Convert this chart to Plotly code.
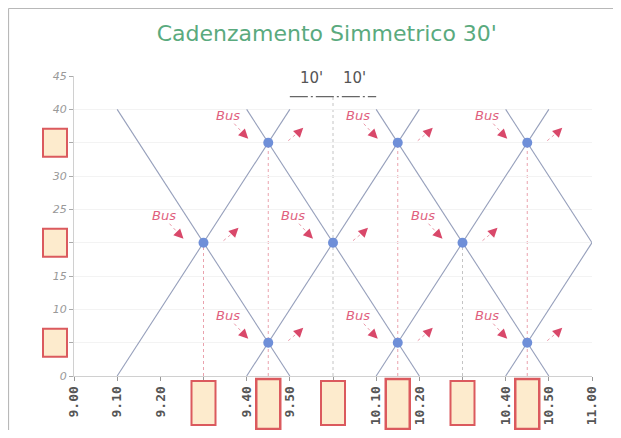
import plotly.graph_objects as go

# minutes after 9.00
tick_minutes = [0, 10, 20, 30, 40, 50, 60, 70, 80, 90, 100, 110, 120]
tick_labels = ["9.00", "9.10", "9.20", "", "9.40", "9.50", "",
               "10.10", "10.20", "", "10.40", "10.50", "11.00"]
y_ticks = [0, 5, 10, 15, 20, 25, 30, 35, 40, 45]
y_labels = ["0", "", "10", "15", "", "25", "30", "", "40", "45"]

# train paths (one direction climbs, the other descends)
up_x = [[10, 50], [40, 80], [70, 110], [100, 120]]
up_y = [[0, 40], [0, 40], [0, 40], [0, 20]]
down_x = [[10, 50], [40, 80], [70, 110], [100, 120]]
down_y = [[40, 0], [40, 0], [40, 0], [40, 20]]

# crossing points (bus connections)
meet_x = [30, 45, 45, 60, 75, 75, 90, 105, 105]
meet_y = [20, 35, 5, 20, 35, 5, 20, 35, 5]

# dotted verticals down from the crossings
vline_x = [30, 45, 60, 75, 90, 105]
vline_top = [20, 35, 42, 35, 20, 35]
vline_pink = [True, True, False, True, False, True]

# boxes along the axes
bottom_box_x = [30, 45, 60, 75, 90, 105]
bottom_box_big = [False, True, False, True, False, True]
left_box_y = [5, 20, 35]

spacing_labels = ["10'", "10'"]
spacing_x = [55, 65]

LINE = "#969fbb"
PINK = "#e0607e"
BOX_FILL = "#fdebcd"
BOX_EDGE = "#db5a5e"

fig = go.Figure()

for xs, ys in zip(up_x + down_x, up_y + down_y):
    fig.add_trace(go.Scatter(x=xs, y=ys, mode="lines",
                             line=dict(color=LINE, width=1.1),
                             hoverinfo="skip", showlegend=False))

fig.add_trace(go.Scatter(x=meet_x, y=meet_y, mode="markers",
                         marker=dict(color="#6f8fd8", size=10),
                         showlegend=False))

shapes = []
for vx, top, pink in zip(vline_x, vline_top, vline_pink):
    shapes.append(dict(type="line", x0=vx, x1=vx, y0=0, y1=top, layer="below",
                       line=dict(color="#eaa2ad" if pink else "#c4c4c4",
                                 width=1, dash="dot")))

# bracket under the 10' labels
shapes.append(dict(type="line", x0=50, x1=70, y0=41.9, y1=41.9,
                   line=dict(color="#666", width=1.3, dash="18px,3px,2px,3px")))

annotations = []
for mx, my in zip(meet_x, meet_y):
    annotations.append(dict(x=mx, y=my, text="Bus", showarrow=False,
                            xshift=-40, yshift=27,
                            font=dict(family="DejaVu Sans", size=13,
                                      color=PINK, style="italic")))
    # dotted tails
    for x0, y0, x1, y1 in [(-34, 19, -23, 7), (20, 2, 32, 12)]:
        shapes.append(dict(type="line", xref="x", yref="y",
                           xsizemode="pixel", ysizemode="pixel",
                           xanchor=mx, yanchor=my,
                           x0=x0, x1=x1, y0=y0, y1=y1,
                           line=dict(color="#eb9aaa", width=1, dash="dot")))
    # arrow heads
    annotations.append(dict(x=mx, y=my, text="", showarrow=True,
                            xshift=-20, yshift=4, ax=-5, ay=-5,
                            arrowhead=2, arrowsize=1.2, arrowwidth=1.6,
                            arrowcolor="#d9486a"))
    annotations.append(dict(x=mx, y=my, text="", showarrow=True,
                            xshift=35, yshift=15, ax=-5, ay=5,
                            arrowhead=2, arrowsize=1.2, arrowwidth=1.6,
                            arrowcolor="#d9486a"))

for sx, lab in zip(spacing_x, spacing_labels):
    annotations.append(dict(x=sx, y=44.7, text=lab, showarrow=False,
                            font=dict(family="DejaVu Sans", size=15, color="#555")))

for bx, big in zip(bottom_box_x, bottom_box_big):
    shapes.append(dict(type="rect", xref="x", yref="paper",
                       xsizemode="pixel", ysizemode="pixel",
                       xanchor=bx, yanchor=0,
                       x0=-12, x1=12,
                       y0=-3 if big else -5, y1=-53 if big else -49,
                       fillcolor=BOX_FILL, layer="above",
                       line=dict(color=BOX_EDGE, width=2.5 if big else 2)))

for by in left_box_y:
    shapes.append(dict(type="rect", xref="paper", yref="y",
                       xsizemode="pixel", ysizemode="pixel",
                       xanchor=0, yanchor=by,
                       x0=-31, x1=-7, y0=-14, y1=14,
                       fillcolor=BOX_FILL, layer="above",
                       line=dict(color=BOX_EDGE, width=2)))

# scanned slide frame (left and top edges only)
for x0, x1, y0, y1 in [(-65.5, -65.5, -80, 367.5), (-65.5, 560, 367.5, 367.5)]:
    shapes.append(dict(type="line", xref="paper", yref="paper",
                       xsizemode="pixel", ysizemode="pixel",
                       xanchor=0, yanchor=0,
                       x0=x0, x1=x1, y0=y0, y1=y1,
                       line=dict(color="#b8b8b8", width=1.2)))

fig.update_layout(
    width=605, height=422,
    margin=dict(l=66, r=21, t=68, b=54),
    paper_bgcolor="white", plot_bgcolor="white",
    title=dict(text="Cadenzamento Simmetrico 30'", x=0.527, xanchor="center",
               y=0.941, yanchor="middle",
               font=dict(family="DejaVu Sans", size=22, color="#5aaa7e")),
    xaxis=dict(range=[0, 120], tickvals=tick_minutes, ticktext=tick_labels,
               tickangle=-90, showgrid=False, zeroline=False, automargin=False,
               showline=True, linecolor="#d0d0d0", ticks="outside",
               ticklen=4, tickcolor="#999",
               tickfont=dict(family="DejaVu Sans Mono", size=13,
                             color="#555", weight="bold")),
    yaxis=dict(range=[0, 45], tickvals=y_ticks, ticktext=y_labels,
               showgrid=True, gridcolor="#f3f3f3", zeroline=False,
               automargin=False,
               showline=True, linecolor="#d0d0d0", ticks="outside",
               ticklen=4, tickcolor="#aaa",
               tickfont=dict(family="DejaVu Sans", size=11,
                             color="#999", style="italic")),
    shapes=shapes,
    annotations=annotations,
    hovermode=False,
)

fig.write_html("out.html")
